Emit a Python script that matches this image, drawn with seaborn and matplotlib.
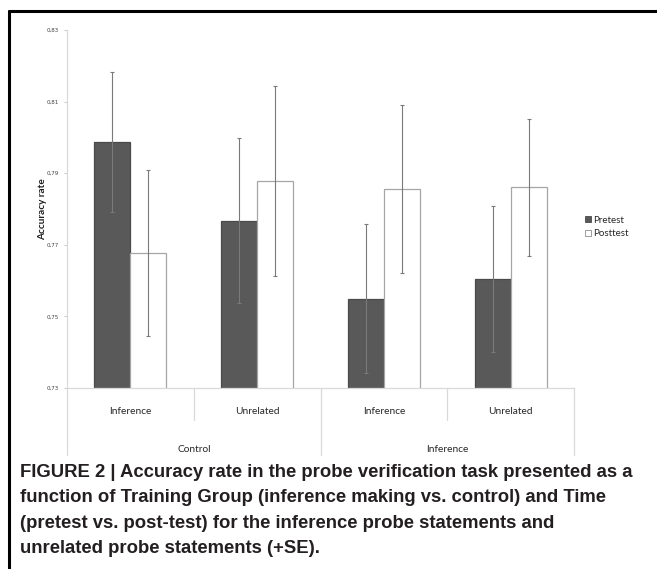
import matplotlib
matplotlib.use("Agg")
import matplotlib.pyplot as plt
import seaborn as sns
import pandas as pd
import numpy as np
from matplotlib.patches import Patch
from matplotlib.lines import Line2D

# values
groups = ["Control", "Control", "Inference", "Inference"]
probes = ["Inference", "Unrelated", "Inference", "Unrelated"]
pretest = [0.7987, 0.7767, 0.7549, 0.7604]
posttest = [0.7677, 0.7878, 0.7856, 0.7861]
pretest_se = [0.0195, 0.0230, 0.0208, 0.0204]
posttest_se = [0.0232, 0.0265, 0.0234, 0.0191]
y_ticks = [0.73, 0.75, 0.77, 0.79, 0.81, 0.83]

caption = ("FIGURE 2 | Accuracy rate in the probe verification task presented as a\n"
           "function of Training Group (inference making vs. control) and Time\n"
           "(pretest vs. post-test) for the inference probe statements and\n"
           "unrelated probe statements (+SE).")

cells = [g + "-" + p for g, p in zip(groups, probes)]
df = pd.DataFrame({
    "cell": cells * 2,
    "time": ["Pretest"] * 4 + ["Posttest"] * 4,
    "acc": pretest + posttest,
    "se": pretest_se + posttest_se,
})

sns.set_style("white")
plt.rcParams["font.family"] = ["Lato", "DejaVu Sans"]

W, H = 657, 569
fig = plt.figure(figsize=(W / 100, H / 100), dpi=100)
ax = fig.add_axes([67 / W, 1 - 388 / H, (574 - 67) / W, (388 - 30) / H])

palette = {"Pretest": "#595959", "Posttest": "#ffffff"}
sns.barplot(data=df, x="cell", y="acc", hue="time", palette=palette,
            errorbar=None, width=0.57, legend=False, ax=ax, zorder=2)

edges = {"Pretest": "#4a4a4a", "Posttest": "#a6a6a6"}
bars = ax.patches
for i, bar in enumerate(bars):
    t = df["time"].iloc[i]
    bar.set_edgecolor(edges[t])
    bar.set_linewidth(0.9)
    cx = bar.get_x() + bar.get_width() / 2
    ax.errorbar(cx, df["acc"].iloc[i], yerr=df["se"].iloc[i], fmt="none",
                ecolor="#7a7a7a", elinewidth=0.8, capsize=1.5, capthick=0.8,
                zorder=3)

ax.set_ylim(0.73, 0.83)
ax.set_xlim(-0.5, 3.5)
ax.set_yticks(y_ticks)
ax.set_yticklabels([f"{v:.2f}".replace(".", ",") for v in y_ticks],
                   fontsize=4, color="#404040", family=["DejaVu Sans"])
ax.tick_params(axis="y", length=2.5, width=0.6, color="#bfbfbf", pad=3,
               left=True)
ax.set_xticks([])
ax.set_xlabel("")
ax.set_ylabel("Accuracy rate", fontsize=7.2, fontweight="bold",
              color="#1f1f1f")
ax.yaxis.set_label_coords(-0.039, 0.5)

for s in ["top", "right"]:
    ax.spines[s].set_visible(False)
ax.spines["left"].set_color("#d9d9d9")
ax.spines["bottom"].set_color("#d9d9d9")
ax.spines["left"].set_linewidth(0.9)
ax.spines["bottom"].set_linewidth(0.9)

# two-level category axis
tr = ax.get_xaxis_transform()
ah = 388 - 30
inner = -32 / ah
outer = -67 / ah
for x in [0.5, 2.5]:
    ax.add_line(Line2D([x, x], [0, inner], transform=tr, color="#d9d9d9",
                       lw=0.9, clip_on=False))
for x in [-0.5, 1.5, 3.5]:
    ax.add_line(Line2D([x, x], [0, outer], transform=tr, color="#d9d9d9",
                       lw=0.9, clip_on=False))
for i, p in enumerate(probes):
    ax.text(i, -24 / ah, p, transform=tr, ha="center", va="center",
            fontsize=7.3, color="#262626")
for i, g in enumerate(["Control", "Inference"]):
    ax.text(2 * i + 0.5, -61 / ah, g, transform=tr, ha="center", va="center",
            fontsize=7.3, color="#262626")

handles = [Patch(facecolor="#595959", edgecolor="#4a4a4a", lw=0.6),
           Patch(facecolor="#ffffff", edgecolor="#8c8c8c", lw=0.6)]
fig.legend(handles, ["Pretest", "Posttest"], loc="center left",
           bbox_to_anchor=(580 / W, 1 - 227 / H), frameon=False,
           fontsize=7, handlelength=0.6, handleheight=0.6, handletextpad=0.3,
           labelspacing=0.5, borderpad=0)

# frame and caption
fig.add_artist(Line2D([9 / W, 1], [1 - 11 / H, 1 - 11 / H], color="black",
                      lw=2.2, transform=fig.transFigure))
fig.add_artist(Line2D([9 / W, 9 / W], [0, 1 - 11 / H], color="black",
                      lw=2.2, transform=fig.transFigure))
fig.text(20 / W, 1 - 464 / H, caption, ha="left", va="top",
         fontsize=13.3, fontweight="bold", color="#231f20",
         family=["Liberation Sans", "DejaVu Sans"], linespacing=1.64)

fig.savefig("out.png", dpi=100)
